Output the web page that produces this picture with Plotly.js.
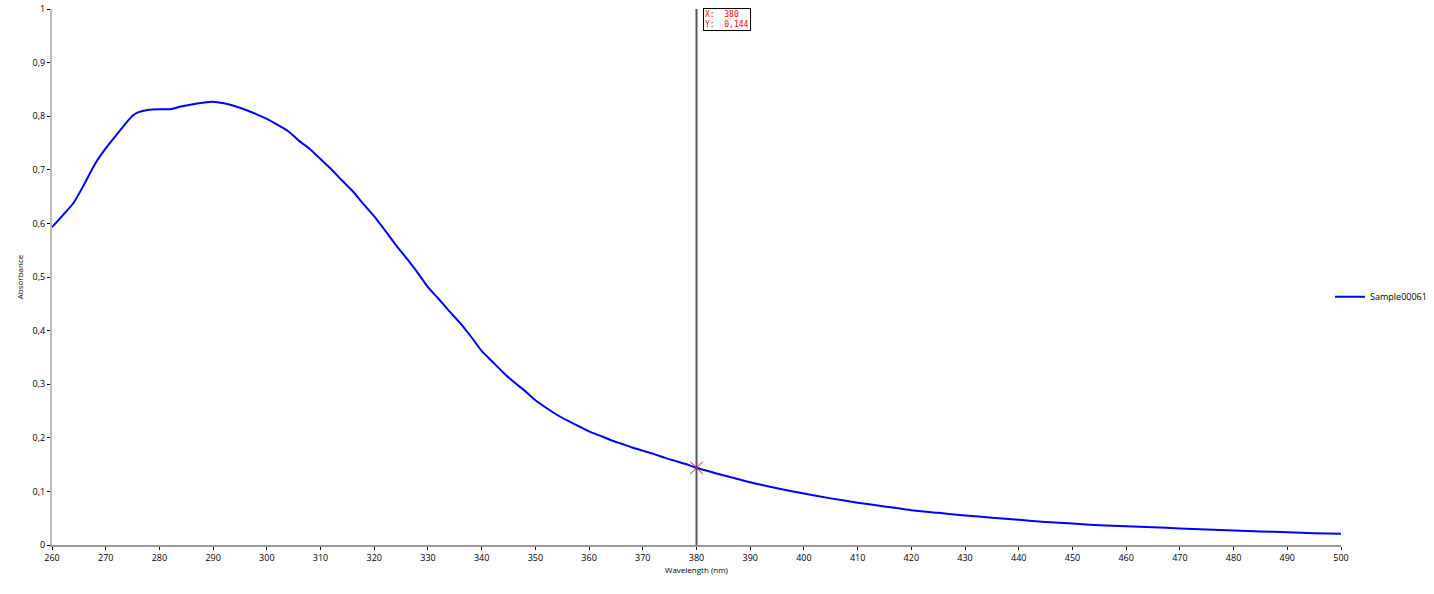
<!DOCTYPE html>
<html>
<head>
<meta charset="utf-8">
<script src="https://cdn.plot.ly/plotly-3.0.1.min.js"></script>
<style>html,body{margin:0;padding:0;background:#fff;}#chart{width:1434px;height:594px;}</style>
</head>
<body>
<div id="chart"></div>
<script>
const wavelength = [260,262,264,266,268,270,272,274,275,276,278,280,282,284,286,288,290,292,294,296,298,300,302,304,306,308,310,312,314,316,318,320,322,324,326,328,330,332,334,336,338,340,342,344,346,348,350,352,354,356,358,360,362,364,366,368,370,372,374,376,378,380,385,390,395,400,405,410,415,420,425,430,435,440,445,450,455,460,465,470,475,480,485,490,495,500];
const absorbance = [0.593,0.615,0.638,0.673,0.711,0.740,0.765,0.790,0.801,0.807,0.812,0.813,0.813,0.818,0.822,0.825,0.827,0.824,0.819,0.812,0.804,0.795,0.784,0.772,0.754,0.739,0.720,0.701,0.680,0.660,0.636,0.613,0.587,0.560,0.535,0.509,0.481,0.459,0.436,0.414,0.389,0.362,0.342,0.322,0.304,0.288,0.270,0.256,0.243,0.232,0.222,0.212,0.204,0.196,0.189,0.182,0.176,0.170,0.163,0.157,0.151,0.144,0.130,0.117,0.106,0.096,0.087,0.079,0.072,0.065,0.060,0.055,0.051,0.047,0.043,0.040,0.037,0.035,0.033,0.031,0.029,0.027,0.025,0.024,0.022,0.021];
const seriesName = "Sample00061";
const cursorX = [380, 380];
const cursorY = [0, 1];
const pointX = [380];
const pointY = [0.144];
const cursorLabel = "X:  380<br>Y:  0,144";
const xTicks = [260,270,280,290,300,310,320,330,340,350,360,370,380,390,400,410,420,430,440,450,460,470,480,490,500];
const yTicks = [0,0.1,0.2,0.3,0.4,0.5,0.6,0.7,0.8,0.9,1];

const traces = [
  {x: wavelength, y: absorbance, type: 'scatter', mode: 'lines', name: seriesName,
   line: {color: '#0000ff', width: 2, shape: 'spline', smoothing: 0.6}},
  {x: cursorX, y: cursorY, type: 'scatter', mode: 'lines', showlegend: false,
   line: {color: '#555555', width: 2}, hoverinfo: 'skip'},
  {x: pointX, y: pointY, type: 'scatter', mode: 'markers', showlegend: false,
   marker: {symbol: 'x-thin', size: 12, line: {color: '#ff0000', width: 1}, color: '#ff0000'}}
];

const layout = {
  width: 1434, height: 594,
  margin: {l: 52, r: 93, t: 9, b: 49, pad: 0, autoexpand: false},
  paper_bgcolor: '#ffffff', plot_bgcolor: '#ffffff',
  separators: ',.',
  font: {family: 'Open Sans, DejaVu Sans, sans-serif', size: 9, color: '#000'},
  showlegend: true,
  legend: {x: 0.9915, y: 0.463, xanchor: 'left', yanchor: 'middle', font: {size: 9, color: '#000'},
           bgcolor: 'rgba(0,0,0,0)', itemwidth: 30, tracegroupgap: 0},
  xaxis: {range: [260, 500], tickvals: xTicks, ticktext: xTicks.map(String),
          showgrid: false, zeroline: false, showline: true, linecolor: '#999999', linewidth: 2,
          ticks: 'outside', ticklen: 3, tickcolor: '#000', tickwidth: 1,
          tickfont: {size: 9}, title: {text: 'Wavelength (nm)', font: {size: 8}, standoff: 4}},
  yaxis: {range: [0, 1], tickvals: yTicks,
          showgrid: false, zeroline: false, showline: true, linecolor: '#bbbbbb', linewidth: 2,
          ticks: 'outside', ticklen: 3, tickcolor: '#000', tickwidth: 1,
          tickfont: {size: 9}, title: {text: 'Absorbance', font: {size: 8}, standoff: 8}},
  annotations: [
    {x: 380, y: 1, xref: 'x', yref: 'y', text: cursorLabel, showarrow: false,
     xanchor: 'left', yanchor: 'top', xshift: 6, yshift: 1, align: 'left',
     font: {family: 'DejaVu Sans Mono, monospace', size: 8, color: '#ff0000'},
     bordercolor: '#000', borderwidth: 1, borderpad: 1, bgcolor: '#ffffff'}
  ]
};

Plotly.newPlot('chart', traces, layout, {displayModeBar: false, staticPlot: true});
</script>
</body>
</html>
